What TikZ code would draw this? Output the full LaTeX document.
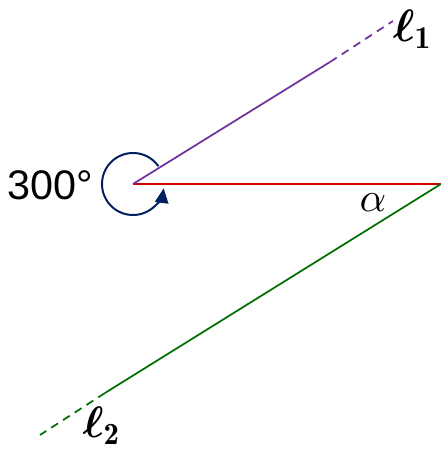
\documentclass[tikz,border=0pt]{standalone}
\usepackage{amsmath,amssymb,bm}
\usepackage{fontspec}
\newfontfamily\arialfont{Liberation Sans}
\usetikzlibrary{arrows.meta}
\definecolor{purpleline}{HTML}{7030A0}
\definecolor{redline}{HTML}{D00000}
\definecolor{greenline}{HTML}{006E00}
\definecolor{navyarc}{HTML}{002060}
\tikzset{
  ray/.style={line width=1.3pt},
  rayext/.style={line width=1.3pt, dash pattern=on 6pt off 4.5pt},
  lbl/.style={inner sep=0pt},
}

\begin{document}
\begin{tikzpicture}[x=0.75pt,y=0.75pt]
    \useasboundingbox (0,0) rectangle (441,451);

    % Define the points of the three lines
    \coordinate (O) at (133,267);   % vertex of the 300 degree angle
    \coordinate (A) at (441,267);   % end of the horizontal line
    \coordinate (B) at (330,389);   % end of solid part of l1
    \coordinate (Bd) at (393,430);  % end of dashed part of l1
    \coordinate (C) at (105,58);    % end of solid part of l2
    \coordinate (Cd) at (40,16);    % end of dashed part of l2

    % Draw the lines
    \draw[ray, redline] (O) -- (A);
    \draw[ray, purpleline] (O) -- (B);
    \draw[rayext, purpleline] (B) -- (Bd);
    \draw[ray, greenline] (A) -- (C);
    \draw[rayext, greenline] (C) -- (Cd);

    % Draw the angle arc
    \draw[navyarc, line width=1.5pt, -{Triangle[length=11pt,width=10pt]}]
      (O) ++(35:31) arc[start angle=35, end angle=352, radius=31];

    % Labels
    \node[lbl, font=\arialfont\fontsize{31}{33}\selectfont] (deg) at (50,266) {300°};
    \node[lbl, scale=3.1] (alpha) at (373,248) {$\alpha$};
    \node[lbl, scale=3.4] (l1) at (413,422) {$\bm{\ell}_{\mathbf{1}}$};
    \node[lbl, scale=3.3] (l2) at (102,25) {$\bm{\ell}_{\mathbf{2}}$};
  \end{tikzpicture}
\end{document}
